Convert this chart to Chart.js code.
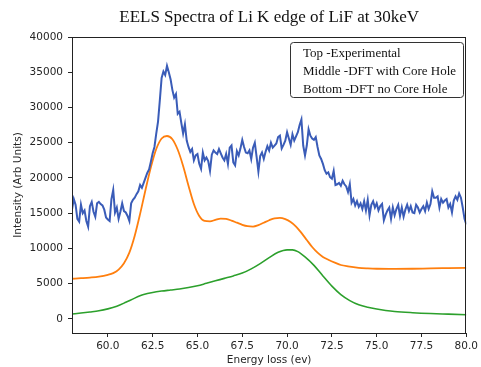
<!DOCTYPE html>
<html>
<head>
<meta charset="utf-8">
<script src="https://cdn.jsdelivr.net/npm/chart.js@4.4.1/dist/chart.umd.min.js"></script>
<style>
  html, body { margin: 0; padding: 0; background: #ffffff; }
  canvas { display: block; }
</style>
</head>
<body>
<canvas id="eels" width="481" height="367"></canvas>
<script>
// Data
const titleText = "EELS Spectra of Li K edge of LiF at 30keV";
const legendLines = ["Top -Experimental", "Middle -DFT with Core Hole", "Bottom -DFT no Core Hole"];

const xTicks = [60, 62.5, 65, 67.5, 70, 72.5, 75, 77.5, 80];
const yTicks = [0, 5000, 10000, 15000, 20000, 25000, 30000, 35000, 40000];

// experimental spectrum, sampled every 0.1 eV from 58.0 eV
const expStart = 58.0;
const expStep = 0.1;
const expValues = [
  15500, 17000, 16200, 14200, 13800, 16200, 15000, 15400, 13900, 13100,
  16000, 16600, 15200, 14500, 16400, 16600, 16300, 16100, 15500, 14400,
  14100, 13900, 17000, 18300, 15100, 15800, 14200, 15200, 16400, 15300,
  15100, 14600, 13900, 16400, 16900, 17200, 17700, 18100, 19000, 18600,
  19300, 20000, 20700, 21200, 22300, 23500, 24400, 26300, 28000, 31000,
  34200, 35100, 34600, 35900, 35000, 34000, 32500, 31400, 31900, 29100,
  29400, 27800, 26300, 27600, 25300, 24400, 23700, 24100, 22500, 23200,
  23400, 22000, 21300, 23600, 22500, 22900, 22400, 21000, 23300, 23900,
  23600, 23400, 24100, 23500, 22900, 22500, 23400, 22000, 24300, 24600,
  22200, 21800, 23800, 23200, 24200, 25400, 24400, 23600, 23500, 23900,
  22700, 24300, 25000, 23000, 20900, 23100, 23600, 22700, 23700, 24500,
  23900, 25000, 24300, 24600, 24900, 25800, 26000, 24200, 24700, 25300,
  26500, 25600, 24700, 26200, 25300, 25900, 26500, 27500, 28300, 24600,
  23200, 24600, 26900, 26000, 25600, 25400, 25800, 24400, 23200, 22700,
  22000, 21100, 20600, 20800, 20100, 19900, 21000, 19000, 19100, 19300,
  18900, 19600, 19100, 18800, 18000, 19100, 16500, 17000, 16100, 16700,
  15900, 16400, 15600, 16700, 15400, 16900, 14700, 16200, 16700, 15800,
  16400, 15400, 16000, 16300, 14000, 14800, 15400, 15800, 14200, 15800,
  14700, 15600, 16200, 14600, 15800, 14500, 15500, 16200, 15300, 16000,
  15100, 15000, 16200, 15800, 15100, 15600, 16000, 15300, 16500, 15600,
  16300, 18100, 17200, 17200, 17400, 15800, 17000, 16500, 16800, 17000,
  15800, 16300, 15100, 16800, 17400, 16900, 17800, 17200, 15800, 14200,
  13400
];

// DFT with core hole
const holeEnergy = [58.0, 58.5, 59.0, 59.5, 60.0, 60.3, 60.6, 60.9, 61.2, 61.5, 61.8, 62.1, 62.4, 62.7, 63.0, 63.3, 63.6, 63.9, 64.2, 64.5, 64.8, 65.1, 65.4, 65.7, 66.0, 66.3, 66.6, 66.9, 67.2, 67.5, 67.8, 68.1, 68.4, 68.7, 69.0, 69.3, 69.6, 69.9, 70.2, 70.5, 70.8, 71.1, 71.4, 71.7, 72.0, 72.3, 72.7, 73.0, 73.4, 74.0, 74.5, 75.0, 76.0, 77.0, 78.0, 79.0, 80.0];
const holeValues = [5700, 5780, 5870, 6000, 6250, 6500, 7000, 7900, 9400, 11800, 14900, 18300, 21500, 24100, 25600, 25950, 25500, 24000, 21700, 18900, 16300, 14600, 13900, 13850, 14050, 14220, 14180, 13950, 13650, 13350, 13150, 13100, 13300, 13650, 14000, 14270, 14330, 14150, 13750, 13100, 12200, 11200, 10200, 9400, 8800, 8400, 7950, 7650, 7450, 7250, 7170, 7120, 7100, 7120, 7170, 7210, 7250];

// DFT without core hole
const noHoleEnergy = [58.0, 58.5, 59.0, 59.5, 60.0, 60.5, 61.0, 61.5, 62.0, 62.5, 63.0, 63.5, 64.0, 64.5, 65.0, 65.5, 66.0, 66.5, 67.0, 67.5, 68.0, 68.5, 69.0, 69.5, 70.0, 70.3, 70.6, 71.0, 71.5, 72.0, 72.5, 73.0, 73.5, 74.0, 74.5, 75.0, 75.5, 76.0, 77.0, 78.0, 79.0, 80.0];
const noHoleValues = [700, 830, 980, 1150, 1420, 1800, 2350, 2950, 3450, 3750, 3950, 4100, 4250, 4450, 4700, 5050, 5400, 5750, 6100, 6500, 7100, 7850, 8700, 9450, 9800, 9800, 9550, 8800, 7600, 6100, 4650, 3450, 2600, 2000, 1650, 1400, 1200, 1050, 880, 760, 680, 600];

const expPoints = expValues.map((v, i) => ({ x: expStart + i * expStep, y: v }));
const holePoints = holeEnergy.map((e, i) => ({ x: e, y: holeValues[i] }));
const noHolePoints = noHoleEnergy.map((e, i) => ({ x: e, y: noHoleValues[i] }));

const tickFont = { family: "DejaVu Sans", size: 10.5 };
const inkColor = "#262626";

// frame, title and the text box (matplotlib style)
const decorations = {
  id: "decorations",
  afterDraw(chart) {
    const ctx = chart.ctx;
    const a = chart.chartArea;
    ctx.save();
    ctx.strokeStyle = "#222";
    ctx.lineWidth = 1;
    ctx.strokeRect(Math.round(a.left) + 0.5, Math.round(a.top) + 0.5,
      Math.round(a.right - a.left) - 1, Math.round(a.bottom - a.top));

    ctx.fillStyle = "#111";
    ctx.font = '17px "Liberation Serif"';
    ctx.textAlign = "center";
    ctx.textBaseline = "middle";
    ctx.fillText(titleText, (a.left + a.right) / 2, 18);

    // text box
    ctx.beginPath();
    ctx.roundRect(290.5, 42.5, 173, 55, 3);
    ctx.fillStyle = "#fff";
    ctx.fill();
    ctx.strokeStyle = "#333";
    ctx.stroke();
    ctx.fillStyle = "#111";
    ctx.font = '13px "Liberation Serif"';
    ctx.textAlign = "left";
    legendLines.forEach((line, i) => {
      ctx.fillText(line, 303, 54 + i * 17.6);
    });
    ctx.restore();
  }
};

new Chart(document.getElementById("eels"), {
  type: "line",
  data: {
    datasets: [
      { data: expPoints, borderColor: "#3a5cb8", borderWidth: 2, tension: 0 },
      { data: holePoints, borderColor: "#ff7f0e", borderWidth: 1.8, cubicInterpolationMode: "monotone" },
      { data: noHolePoints, borderColor: "#2ca02c", borderWidth: 1.6, cubicInterpolationMode: "monotone" }
    ]
  },
  options: {
    responsive: false,
    animation: false,
    devicePixelRatio: 1,
    layout: { padding: { top: 37, right: 12, left: 0, bottom: 0 } },
    elements: { point: { radius: 0 } },
    plugins: {
      legend: { display: false },
      tooltip: { enabled: false }
    },
    scales: {
      x: {
        type: "linear",
        min: 58,
        max: 80,
        afterBuildTicks: (s) => { s.ticks = xTicks.map(v => ({ value: v })); },
        afterFit: (s) => { s.height = 34; },
        grid: { drawOnChartArea: false, drawTicks: true, tickLength: 4, color: inkColor },
        border: { display: false },
        ticks: {
          font: tickFont, color: inkColor, padding: 3, maxRotation: 0,
          callback: (v) => Number(v).toFixed(1)
        },
        title: { display: true, text: "Energy loss (ev)", font: tickFont, color: inkColor, padding: { top: 0, bottom: 0 } }
      },
      y: {
        type: "linear",
        min: -2000,
        max: 40000,
        afterBuildTicks: (s) => { s.ticks = yTicks.map(v => ({ value: v })); },
        afterFit: (s) => { s.width = 72; },
        grid: { drawOnChartArea: false, drawTicks: true, tickLength: 4, color: inkColor },
        border: { display: false },
        ticks: { font: tickFont, color: inkColor, padding: 5, callback: (v) => String(v) },
        title: { display: true, text: "Intensity (Arb Units)", font: tickFont, color: inkColor, padding: { top: 12, bottom: 0 } }
      }
    }
  },
  plugins: [decorations]
});
</script>
</body>
</html>
